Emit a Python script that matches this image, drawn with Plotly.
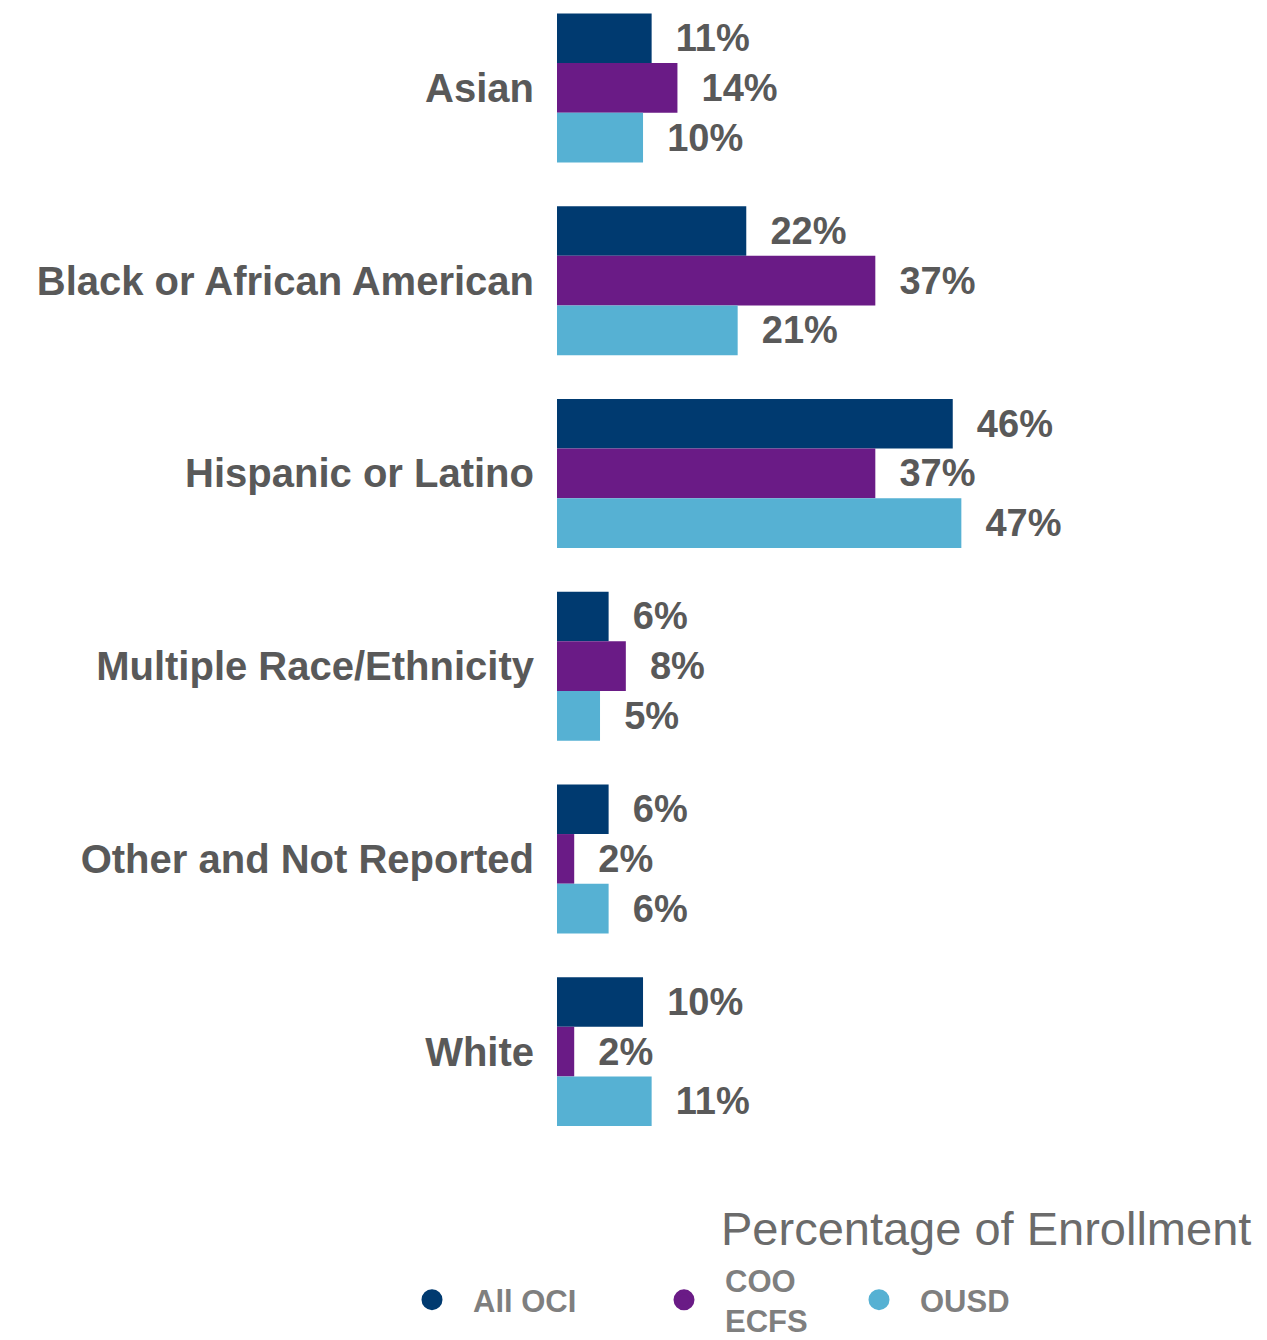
import plotly.graph_objects as go

categories = ["Asian", "Black or African American", "Hispanic or Latino",
              "Multiple Race/Ethnicity", "Other and Not Reported", "White"]
series_names = ["All OCI", "COO<br>ECFS", "OUSD"]
all_oci = [11, 22, 46, 6, 6, 10]
coo_ecfs = [14, 37, 37, 8, 2, 2]
ousd = [10, 21, 47, 5, 6, 11]
colors = ["#003a70", "#6a1b86", "#56b1d3"]
axis_title = "Percentage of Enrollment"

values = [all_oci, coo_ecfs, ousd]
FONT = "Liberation Sans, Arial, sans-serif"

fig = go.Figure()
for name, vals, col in zip(series_names, values, colors):
    fig.add_trace(go.Bar(
        y=categories, x=vals, orientation="h", name=name,
        marker=dict(color=col, line=dict(width=0)),
        text=[f"\u00a0\u00a0{v}%" for v in vals],
        textposition="outside", constraintext="none", cliponaxis=False,
        textfont=dict(family=FONT, size=38, color="#595959", weight="bold"),
        showlegend=False,
    ))

legend_ids = ["legend", "legend2", "legend3"]
legend_x = [391, 643, 838]
for name, col, lid in zip(series_names, colors, legend_ids):
    fig.add_trace(go.Scatter(
        x=[None], y=[None], mode="markers", name=name,
        marker=dict(color=col, size=24, symbol="circle",
                    line=dict(color=col, width=6)),
        showlegend=True, legend=lid,
    ))

leg_common = dict(
    orientation="h", xref="container", yref="container",
    xanchor="left", yanchor="middle", y=1 - 1300 / 1340,
    font=dict(family=FONT, size=31, color="#7f7f7f", weight="bold"),
    bgcolor="rgba(0,0,0,0)", itemwidth=72,
)

fig.update_layout(
    width=1267, height=1340,
    margin=dict(l=557, r=14, t=0, b=192),
    paper_bgcolor="white", plot_bgcolor="white",
    barmode="group", bargap=0.227, bargroupgap=0,
    xaxis=dict(range=[0, 80.9], visible=False, fixedrange=True),
    yaxis=dict(
        categoryorder="array", categoryarray=categories,
        range=[5.5, -0.456], showgrid=False, showline=False, zeroline=False,
        ticks="", ticklabelstandoff=22,
        tickfont=dict(family=FONT, size=40, color="#595959", weight="bold"),
    ),
    legend=dict(leg_common, x=legend_x[0] / 1267),
    legend2=dict(leg_common, x=legend_x[1] / 1267),
    legend3=dict(leg_common, x=legend_x[2] / 1267),
    annotations=[dict(
        text=axis_title, xref="paper", yref="paper", x=1, y=(1148 - 1228) / 1148,
        xanchor="right", yanchor="middle", showarrow=False,
        font=dict(family=FONT, size=47, color="#6b6b6b"),
    )],
)

fig.write_html("out.html")
